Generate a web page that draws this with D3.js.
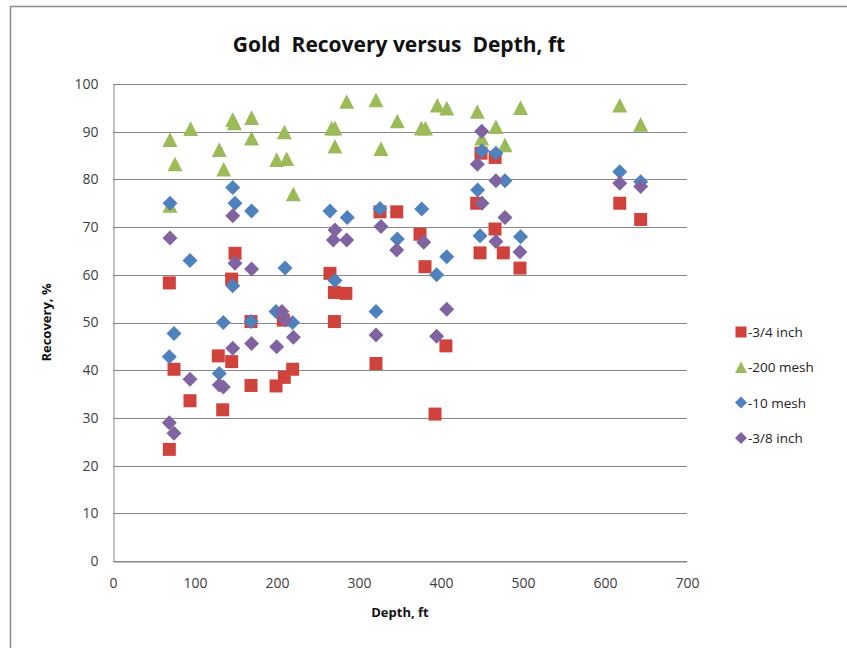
<!DOCTYPE html>
<html>
<head>
<meta charset="utf-8">
<script src="https://cdn.jsdelivr.net/npm/d3@7"></script>
<style>
  html, body { margin: 0; padding: 0; background: #fff; }
  svg { display: block; }
  text { font-family: "Open Sans", "Liberation Sans", sans-serif; }
</style>
</head>
<body>
<svg id="chart" width="847" height="648"></svg>
<script>
// Depth (ft) and recovery (%) for each size fraction
const seriesNames = ["-3/4 inch", "-200 mesh", "-10 mesh", "-3/8 inch"];

const inch34Depth = [68.7, 68.7, 74.4, 93.9, 128.4, 133.8, 144.7, 148.8, 144.7, 168.3, 168.3, 198.8, 207.7, 208.9, 219.1, 264.6, 270, 270, 284, 320.7, 325.6, 346, 374.4, 380.5, 392.7, 406, 443.5, 447.6, 448.8, 466, 465.9, 476, 496.3, 618, 643.5];
const inch34Rec   = [58.3, 23.4, 40.2, 33.6, 43.0, 31.7, 59.1, 64.5, 41.8, 50.2, 36.8, 36.7, 50.5, 38.5, 40.2, 60.3, 56.3, 50.2, 56.1, 41.4, 73.2, 73.2, 68.5, 61.7, 30.8, 45.1, 75.0, 64.6, 85.5, 84.6, 69.6, 64.6, 61.4, 75.0, 71.6];

const mesh200Depth = [69.5, 69.5, 75.6, 94.7, 129.6, 135, 146, 148, 169, 169, 199.6, 209, 211.8, 219.9, 266.7, 270.7, 270.7, 285, 320.7, 326.8, 346.7, 376, 381, 395.5, 407, 444.3, 449.6, 467, 478, 497, 618, 643.5];
const mesh200Rec   = [88.3, 74.5, 83.2, 90.6, 86.2, 82.1, 92.5, 91.8, 92.9, 88.6, 84.1, 89.9, 84.3, 76.9, 90.7, 90.7, 86.9, 96.3, 96.6, 86.4, 92.2, 90.7, 90.7, 95.5, 94.9, 94.2, 88.6, 91.0, 87.2, 95.0, 95.5, 91.5];

const mesh10Depth = [68.7, 69.5, 74.4, 93.9, 129.6, 134.5, 146, 146, 148.8, 168.3, 169, 198.8, 209.8, 219, 264.6, 270.7, 285.7, 320.7, 325.6, 346.7, 376.5, 394.7, 407, 444.7, 447.6, 450, 467, 478, 497, 618, 643.5];
const mesh10Rec   = [42.8, 75.0, 47.7, 63.0, 39.3, 50.0, 78.3, 57.7, 75.0, 50.2, 73.4, 52.3, 61.4, 50.0, 73.4, 58.8, 72.0, 52.3, 73.9, 67.5, 73.8, 60.0, 63.8, 77.8, 68.2, 86.0, 85.5, 79.7, 68.0, 81.6, 79.5];

const inch38Depth = [68.7, 69.5, 74.4, 93.9, 129.6, 134.5, 146, 146, 148.8, 169, 169, 199.6, 206, 210, 220, 268.7, 270.7, 285, 320.7, 326.8, 346, 379, 394.7, 407, 444.3, 449.6, 450, 467, 467, 478, 496.3, 618, 643.5];
const inch38Rec   = [29.0, 67.7, 26.8, 38.1, 36.9, 36.5, 72.4, 44.6, 62.4, 61.2, 45.6, 44.9, 52.3, 50.5, 46.9, 67.3, 69.4, 67.3, 47.4, 70.1, 65.2, 66.8, 47.1, 52.8, 83.2, 90.1, 75.0, 79.7, 67.0, 72.0, 64.8, 79.2, 78.5];

const xTicks = [0, 100, 200, 300, 400, 500, 600, 700];
const yTicks = [0, 10, 20, 30, 40, 50, 60, 70, 80, 90, 100];

const seriesColors = ["#d0433c", "#9bbb59", "#4f81bd", "#8064a2"];

// Marker shapes: square, triangle, and a square rotated 45 degrees
const squareSym = { draw(ctx, size) { const h = Math.sqrt(size) / 2; ctx.rect(-h, -h, 2 * h, 2 * h); } };
const triangleSym = { draw(ctx, size) { const r = Math.sqrt(size) / 2; ctx.moveTo(0, -r); ctx.lineTo(r, r * 0.95); ctx.lineTo(-r, r * 0.95); ctx.closePath(); } };
const diamondSym = { draw(ctx, size) { const r = Math.sqrt(size) / 2; ctx.moveTo(0, -r); ctx.lineTo(r, 0); ctx.lineTo(0, r); ctx.lineTo(-r, 0); ctx.closePath(); } };

const series = [
  { name: seriesNames[0], xs: inch34Depth, ys: inch34Rec, color: seriesColors[0], sym: squareSym, size: 13 * 13 },
  { name: seriesNames[1], xs: mesh200Depth, ys: mesh200Rec, color: seriesColors[1], sym: triangleSym, size: 15 * 15 },
  { name: seriesNames[2], xs: mesh10Depth, ys: mesh10Rec, color: seriesColors[2], sym: diamondSym, size: 15 * 15 },
  { name: seriesNames[3], xs: inch38Depth, ys: inch38Rec, color: seriesColors[3], sym: diamondSym, size: 15 * 15 }
];

const svg = d3.select("#chart");

// Outer chart frame
svg.append("rect")
  .attr("x", 10.5).attr("y", 6.5)
  .attr("width", 860).attr("height", 660)
  .attr("fill", "#fff").attr("stroke", "#8c8c8c").attr("stroke-width", 1.5);

const plot = { left: 113, right: 687, top: 84, bottom: 561 };

const x = d3.scaleLinear().domain([0, 700]).range([plot.left, plot.right]);
const y = d3.scaleLinear().domain([0, 100]).range([plot.bottom, plot.top]);

// Horizontal gridlines
svg.append("g")
  .selectAll("line")
  .data(yTicks)
  .join("line")
  .attr("x1", plot.left).attr("x2", plot.right)
  .attr("y1", d => Math.round(y(d)) + 0.5).attr("y2", d => Math.round(y(d)) + 0.5)
  .attr("stroke", "#868686").attr("stroke-width", 1);

// Y axis
const yAxis = svg.append("g")
  .attr("transform", `translate(${plot.left + 0.5},0)`)
  .call(d3.axisLeft(y).tickValues(yTicks).tickSize(0).tickPadding(15).tickFormat(d3.format("d")));
yAxis.select(".domain").attr("stroke", "#868686");
yAxis.selectAll("text").attr("font-size", 14).attr("fill", "#404040")
  .attr("font-family", "'Open Sans', sans-serif");

// X axis
const xAxis = svg.append("g")
  .attr("transform", `translate(0,${Math.round(plot.bottom) + 0.5})`)
  .call(d3.axisBottom(x).tickValues(xTicks).tickSize(0).tickPadding(17).tickFormat(d3.format("d")));
xAxis.select(".domain").attr("stroke", "#868686");
xAxis.selectAll("text").attr("font-size", 14).attr("fill", "#404040")
  .attr("font-family", "'Open Sans', sans-serif");

// Markers
series.forEach(s => {
  svg.append("g")
    .selectAll("path")
    .data(s.xs.map((d, i) => [d, s.ys[i]]))
    .join("path")
    .attr("d", d3.symbol().type(s.sym).size(s.size))
    .attr("transform", d => `translate(${x(d[0])},${y(d[1])})`)
    .attr("fill", s.color);
});

// Title
svg.append("text")
  .attr("x", 399).attr("y", 52)
  .attr("text-anchor", "middle")
  .attr("font-size", 21).attr("font-weight", "bold")
  .attr("fill", "#111")
  .style("white-space", "pre")
  .text("Gold  Recovery versus  Depth, ft");

// Axis titles
svg.append("text")
  .attr("transform", `translate(51,${(plot.top + plot.bottom) / 2}) rotate(-90)`)
  .attr("text-anchor", "middle")
  .attr("font-size", 13).attr("font-weight", "bold").attr("fill", "#111")
  .text("Recovery, %");

svg.append("text")
  .attr("x", 400).attr("y", 617)
  .attr("text-anchor", "middle")
  .attr("font-size", 13).attr("font-weight", "bold").attr("fill", "#111")
  .text("Depth, ft");

// Legend
const legend = svg.append("g").attr("transform", "translate(741,332)");
series.forEach((s, i) => {
  const g = legend.append("g").attr("transform", `translate(0,${i * 35.3})`);
  g.append("path")
    .attr("d", d3.symbol().type(s.sym).size(i === 0 ? 11 * 11 : 12 * 12))
    .attr("fill", s.color);
  g.append("text")
    .attr("x", 7).attr("y", 5)
    .attr("font-size", 13.5).attr("fill", "#222")
    .text(s.name);
});
</script>
</body>
</html>
